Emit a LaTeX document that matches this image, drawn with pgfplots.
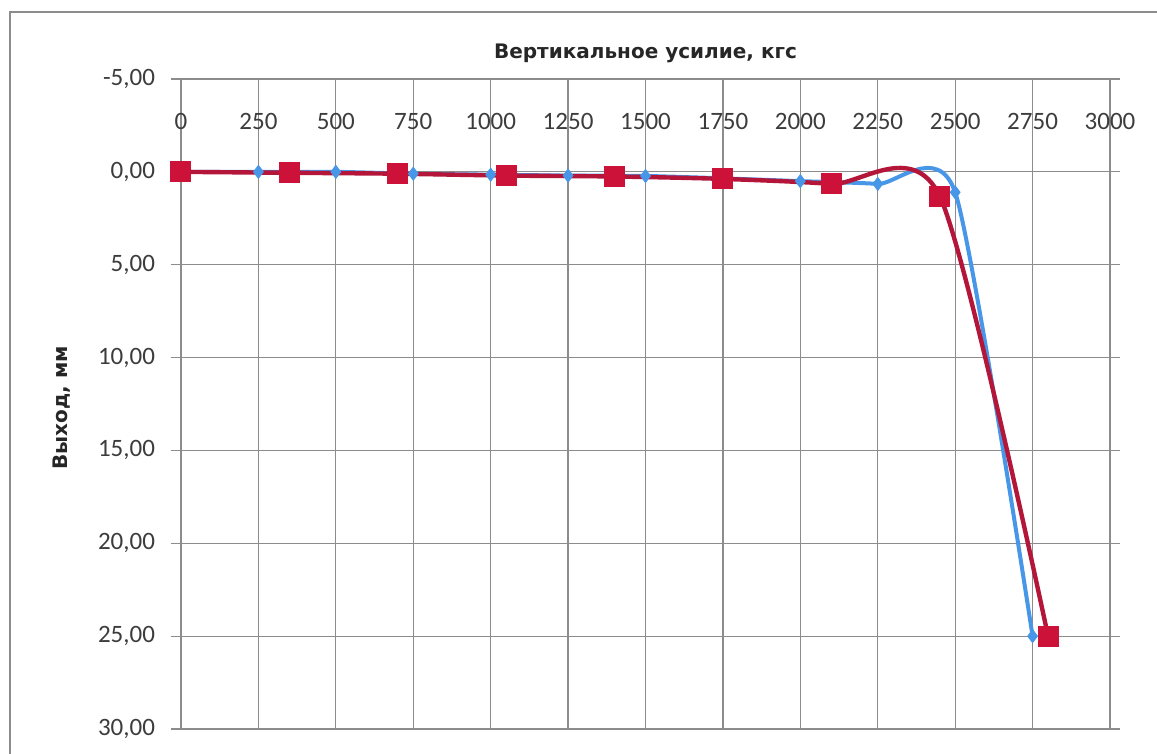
\documentclass[border=0pt]{standalone}
\usepackage{pgfplots}
\pgfplotsset{compat=1.18}
\usepackage{fontspec}
\setmainfont{Carlito}
\newfontfamily\lblfont{DejaVu Sans}
\definecolor{bl}{RGB}{72,150,232}
\definecolor{rd}{RGB}{205,18,58}
\definecolor{rdl}{RGB}{180,22,58}
\definecolor{gr}{RGB}{140,140,140}
\definecolor{txt}{RGB}{60,60,60}
\begin{document}
\begin{tikzpicture}
\useasboundingbox (0pt,0pt) rectangle (578.5pt,-377pt);
\draw[gr, line width=1.2pt] (5pt,-377pt) -- (5pt,-6pt) -- (578.5pt,-6pt);
\begin{axis}[
  at={(90.5pt,-39.5pt)}, anchor=north west,
  scale only axis, width=464.5pt, height=325pt,
  xmin=0, xmax=3000, ymin=-5, ymax=30, y dir=reverse,
  xtick={0,250,...,3000}, ytick={-5,0,...,30},
  grid=major, major grid style={gr, line width=0.6pt},
  axis line style={gr, line width=0.6pt},
  xtick style={draw=none},
  ytick style={gr, line width=0.6pt},
  tick align=outside, major tick length=5pt,
  xticklabel pos=upper,
  xticklabel style={anchor=center, yshift=-26pt, font=\fontsize{12.5}{14}\selectfont, text=txt},
  yticklabel style={font=\fontsize{12.5}{14}\selectfont, text=txt, xshift=-4.5pt},
  x tick label style={/pgf/number format/1000 sep={}},
  y tick label style={/pgf/number format/.cd, fixed, fixed zerofill, precision=2, use comma, 1000 sep={}},
  /pgf/number format/assume math mode=true,
  title={Вертикальное усилие, кгс},
  title style={at={(axis description cs:0.5,1)}, anchor=base, yshift=4.5pt, font=\lblfont\bfseries\fontsize{10}{12}\selectfont, text=black!85},
  ylabel={Выход, мм},
  ylabel style={at={(axis description cs:-0.129,0.494)}, anchor=center, font=\lblfont\bfseries\fontsize{10}{12}\selectfont, text=black!85},
  clip=false,
]
\addplot[bl, line width=2pt, smooth, tension=0.4, mark=diamond*, mark size=3.2pt, mark options={fill=bl, draw=bl, line width=0.5pt}]
coordinates {(0,0) (250,0) (500,0) (750,0.1) (1000,0.15) (1250,0.2) (1500,0.22) (1750,0.35) (2000,0.5) (2250,0.65) (2500,1.1) (2750,25)};
\addplot[rdl, line width=2.2pt, smooth, tension=0.45, mark=square*, mark size=5pt, mark options={fill=rd, draw=rd, line width=0.5pt}]
coordinates {(0,0) (350,0.05) (700,0.1) (1050,0.2) (1400,0.25) (1750,0.38) (2100,0.65) (2450,1.3) (2800,25)};
\end{axis}
\end{tikzpicture}
\end{document}
